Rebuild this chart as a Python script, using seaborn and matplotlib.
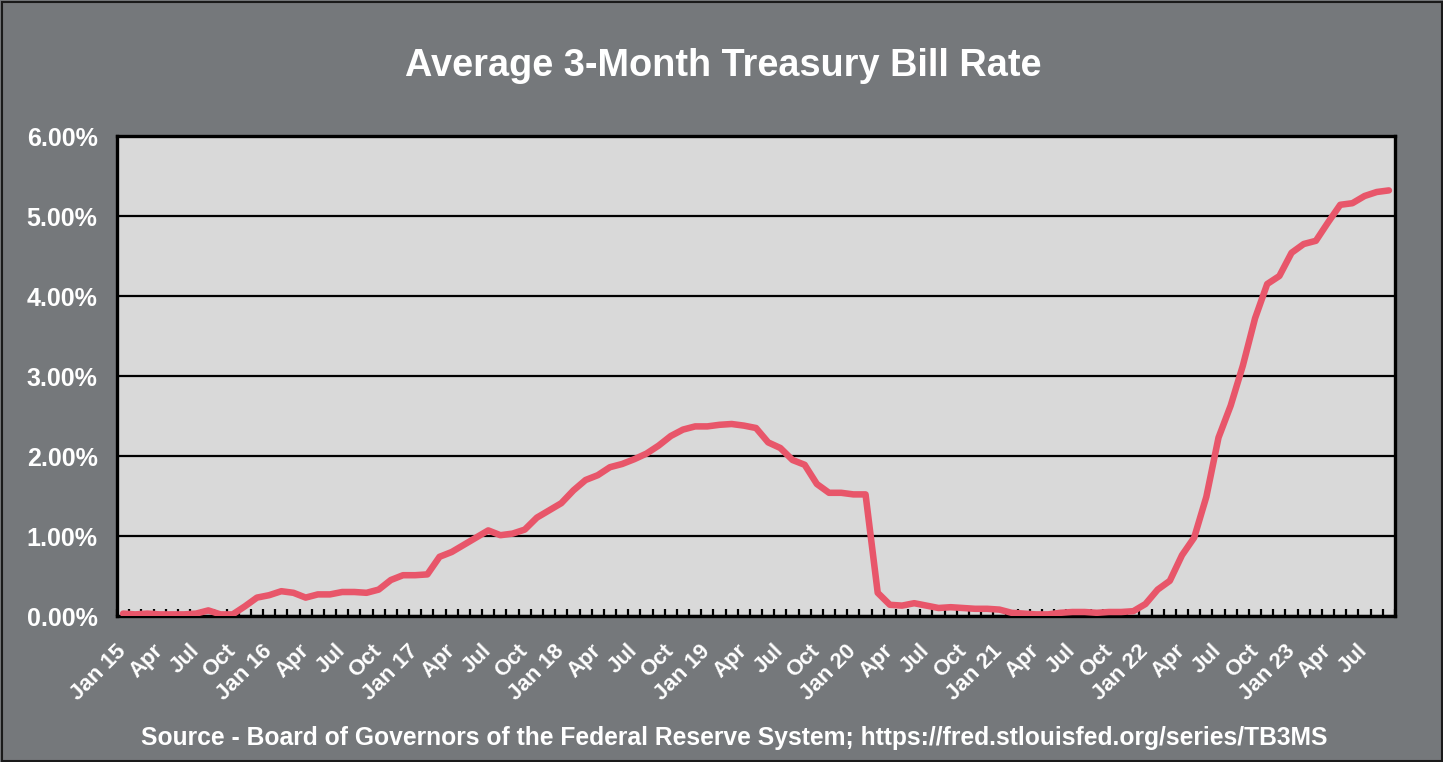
import numpy as np
import pandas as pd
import matplotlib
matplotlib.use("Agg")
import matplotlib.pyplot as plt
from matplotlib.patches import Rectangle
from matplotlib.ticker import FixedLocator
import seaborn as sns

# Monthly average 3-month Treasury bill rate (%), Jan 2015 - Sep 2023
rate_2015 = [0.03, 0.02, 0.03, 0.02, 0.02, 0.02, 0.03, 0.07, 0.02, 0.02, 0.12, 0.23]
rate_2016 = [0.26, 0.31, 0.29, 0.23, 0.27, 0.27, 0.30, 0.30, 0.29, 0.33, 0.45, 0.51]
rate_2017 = [0.51, 0.52, 0.74, 0.80, 0.89, 0.98, 1.07, 1.01, 1.03, 1.08, 1.23, 1.32]
rate_2018 = [1.41, 1.57, 1.70, 1.76, 1.86, 1.90, 1.96, 2.03, 2.13, 2.25, 2.33, 2.37]
rate_2019 = [2.37, 2.39, 2.40, 2.38, 2.35, 2.17, 2.10, 1.95, 1.89, 1.65, 1.54, 1.54]
rate_2020 = [1.52, 1.52, 0.29, 0.14, 0.13, 0.16, 0.13, 0.10, 0.11, 0.10, 0.09, 0.09]
rate_2021 = [0.08, 0.04, 0.03, 0.02, 0.02, 0.04, 0.05, 0.05, 0.04, 0.05, 0.05, 0.06]
rate_2022 = [0.15, 0.33, 0.44, 0.76, 0.98, 1.49, 2.23, 2.63, 3.13, 3.72, 4.15, 4.25]
rate_2023 = [4.54, 4.65, 4.69, 4.92, 5.14, 5.16, 5.25, 5.30, 5.32]

month_tick_labels = [
    "Jan 15", "Apr", "Jul", "Oct",
    "Jan 16", "Apr", "Jul", "Oct",
    "Jan 17", "Apr", "Jul", "Oct",
    "Jan 18", "Apr", "Jul", "Oct",
    "Jan 19", "Apr", "Jul", "Oct",
    "Jan 20", "Apr", "Jul", "Oct",
    "Jan 21", "Apr", "Jul", "Oct",
    "Jan 22", "Apr", "Jul", "Oct",
    "Jan 23", "Apr", "Jul",
]
y_ticks = [0, 1, 2, 3, 4, 5, 6]

title_text = "Average 3-Month Treasury Bill Rate"
source_text = ("Source - Board of Governors of the Federal Reserve System; "
               "https://fred.stlouisfed.org/series/TB3MS")

rates = (rate_2015 + rate_2016 + rate_2017 + rate_2018 + rate_2019
         + rate_2020 + rate_2021 + rate_2022 + rate_2023)
df = pd.DataFrame({"month": np.arange(len(rates)), "rate": rates})

BG = "#75787b"
PLOT_BG = "#d9d9d9"
LINE = "#e8566a"
W, H = 1443, 762

sns.set_theme(style="white")
plt.rcParams["font.family"] = ["Liberation Sans", "DejaVu Sans"]
plt.rcParams["font.weight"] = "bold"

fig = plt.figure(figsize=(W / 100, H / 100), dpi=100, facecolor=BG)
ax = fig.add_axes([117 / W, 1 - 616 / H, (1395 - 117) / W, (616 - 136) / H])
ax.set_facecolor(PLOT_BG)

sns.lineplot(data=df, x="month", y="rate", ax=ax, color=LINE, linewidth=4.7,
             solid_capstyle="round", solid_joinstyle="round", zorder=3)

n = len(rates)
ax.set_xlim(-0.5, n - 0.5)
ax.set_ylim(0, 6)

# horizontal gridlines behind the series
ax.set_axisbelow(True)
ax.yaxis.grid(True, color="black", linewidth=1.6)
ax.xaxis.grid(False)

ax.set_yticks(y_ticks)
ax.set_yticklabels([f"{v:.2f}%" for v in y_ticks])
ax.tick_params(axis="y", length=0, pad=14, labelsize=18, labelcolor="white")

# quarterly labels, one tick mark per month boundary
ax.xaxis.set_major_locator(FixedLocator(np.arange(0, n, 3)))
ax.set_xticklabels(month_tick_labels)
ax.xaxis.set_minor_locator(FixedLocator(np.arange(-0.5, n, 1)))
ax.tick_params(axis="x", which="major", length=0, pad=23, labelsize=16,
               labelcolor="white")
ax.tick_params(axis="x", which="minor", direction="in", length=5, width=1.6,
               color="black", bottom=True)
for lbl in ax.get_xticklabels():
    lbl.set_rotation(45)
    lbl.set_ha("right")
    lbl.set_va("center")
    lbl.set_rotation_mode("anchor")
    lbl.set_fontweight("bold")
for lbl in ax.get_yticklabels():
    lbl.set_fontweight("bold")

for side in ["left", "right", "top", "bottom"]:
    ax.spines[side].set_visible(True)
    ax.spines[side].set_color("black")
    ax.spines[side].set_linewidth(2.4)

ax.set_xlabel("")
ax.set_ylabel("")

fig.text(723.5 / W, 1 - 76 / H, title_text, ha="center", va="baseline",
         color="white", fontsize=27.3, fontweight="bold")
fig.text(734 / W, 1 - 745 / H, source_text, ha="center", va="baseline",
         color="white", fontsize=17.7, fontweight="bold")

fig.patches.append(Rectangle((1.5 / W, 1.5 / H), 1 - 3 / W, 1 - 3 / H,
                             transform=fig.transFigure, fill=False,
                             edgecolor="#1a1a1a", linewidth=1.5))

fig.savefig("out.png", dpi=100, facecolor=BG)
